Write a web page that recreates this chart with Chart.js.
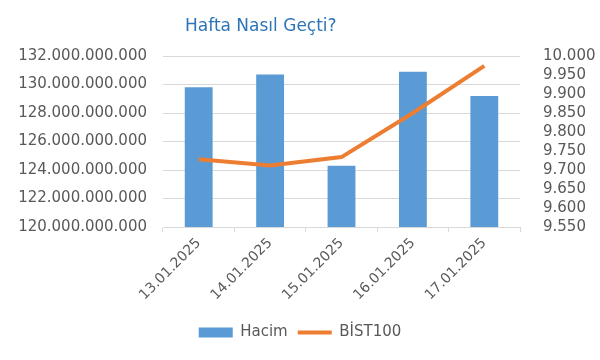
<!DOCTYPE html>
<html>
<head>
<meta charset="utf-8">
<script src="https://cdn.jsdelivr.net/npm/chart.js@4"></script>
<style>
    body { margin: 0; background: #fff; }
    #wrap { position: relative; width: 600px; height: 360px; }
    #baslik { position: absolute; left: 185px; top: 15px; font: 17px "DejaVu Sans", sans-serif; color: #2e75b6; }
</style>
</head>
<body>
<div id="wrap">
    <div id="baslik">Hafta Nasıl Geçti?</div>
    <canvas id="grafik" width="600" height="360"></canvas>
</div>
<script>
// veriler
const gunler = ["13.01.2025", "14.01.2025", "15.01.2025", "16.01.2025", "17.01.2025"];
const hacim = [129.8e9, 130.7e9, 124.3e9, 130.9e9, 129.2e9];
const bist100 = [9728, 9712, 9734, 9850, 9974];

// eksen sınırları
const hacimMin = 120e9, hacimMax = 132e9, hacimAdim = 2e9;
const bistMin = 9550, bistMax = 10000, bistAdim = 50;

const griYazi = "#595959";
const fontAile = "'DejaVu Sans', sans-serif";

function noktaliSayi(n) {
    return Math.round(n).toString().replace(/\B(?=(\d{3})+(?!\d))/g, ".");
}

const ctx = document.getElementById("grafik").getContext("2d");
new Chart(ctx, {
    type: "bar",
    data: {
        labels: gunler,
        datasets: [
            {
                type: "line",
                label: "BİST100",
                data: bist100,
                yAxisID: "ySag",
                borderColor: "#ed7d31",
                backgroundColor: "#ed7d31",
                borderWidth: 4,
                pointRadius: 0,
                pointStyle: "line",
                tension: 0,
                order: 0
            },
            {
                label: "Hacim",
                data: hacim,
                yAxisID: "ySol",
                backgroundColor: "#5b9bd5",
                borderWidth: 0,
                pointStyle: "rect",
                categoryPercentage: 1,
                barPercentage: 0.39,
                order: 1
            }
        ]
    },
    options: {
        responsive: false,
        animation: false,
        layout: { padding: { top: 56, left: 0, right: 0, bottom: 10 } },
        plugins: {
            title: { display: false },
            tooltip: { enabled: false },
            legend: {
                position: "bottom",
                reverse: true,
                labels: {
                    usePointStyle: true,
                    pointStyleWidth: 34,
                    boxHeight: 10,
                    padding: 10,
                    color: griYazi,
                    font: { family: fontAile, size: 15 }
                }
            }
        },
        scales: {
            x: {
                grid: { drawOnChartArea: false, drawTicks: true, tickLength: 5, color: "#d9d9d9", offset: true },
                border: { color: "#d9d9d9" },
                ticks: {
                    color: griYazi,
                    font: { family: fontAile, size: 14 },
                    minRotation: 45,
                    maxRotation: 45,
                    padding: 3
                },
                afterFit: (s) => { s.height = 88; }
            },
            ySol: {
                position: "left",
                min: hacimMin,
                max: hacimMax,
                grid: { color: "#d9d9d9", drawTicks: false },
                border: { display: false },
                ticks: {
                    stepSize: hacimAdim,
                    autoSkip: false,
                    color: griYazi,
                    padding: 16,
                    font: { family: fontAile, size: 15 },
                    callback: (v) => noktaliSayi(v)
                },
                afterFit: (s) => { s.width = 163; }
            },
            ySag: {
                position: "right",
                min: bistMin,
                max: bistMax,
                grid: { display: false },
                border: { display: false },
                ticks: {
                    stepSize: bistAdim,
                    autoSkip: false,
                    color: griYazi,
                    padding: 15,
                    font: { family: fontAile, size: 15 },
                    callback: (v) => noktaliSayi(v)
                },
                afterFit: (s) => { s.width = 80; }
            }
        }
    }
});
</script>
</body>
</html>
